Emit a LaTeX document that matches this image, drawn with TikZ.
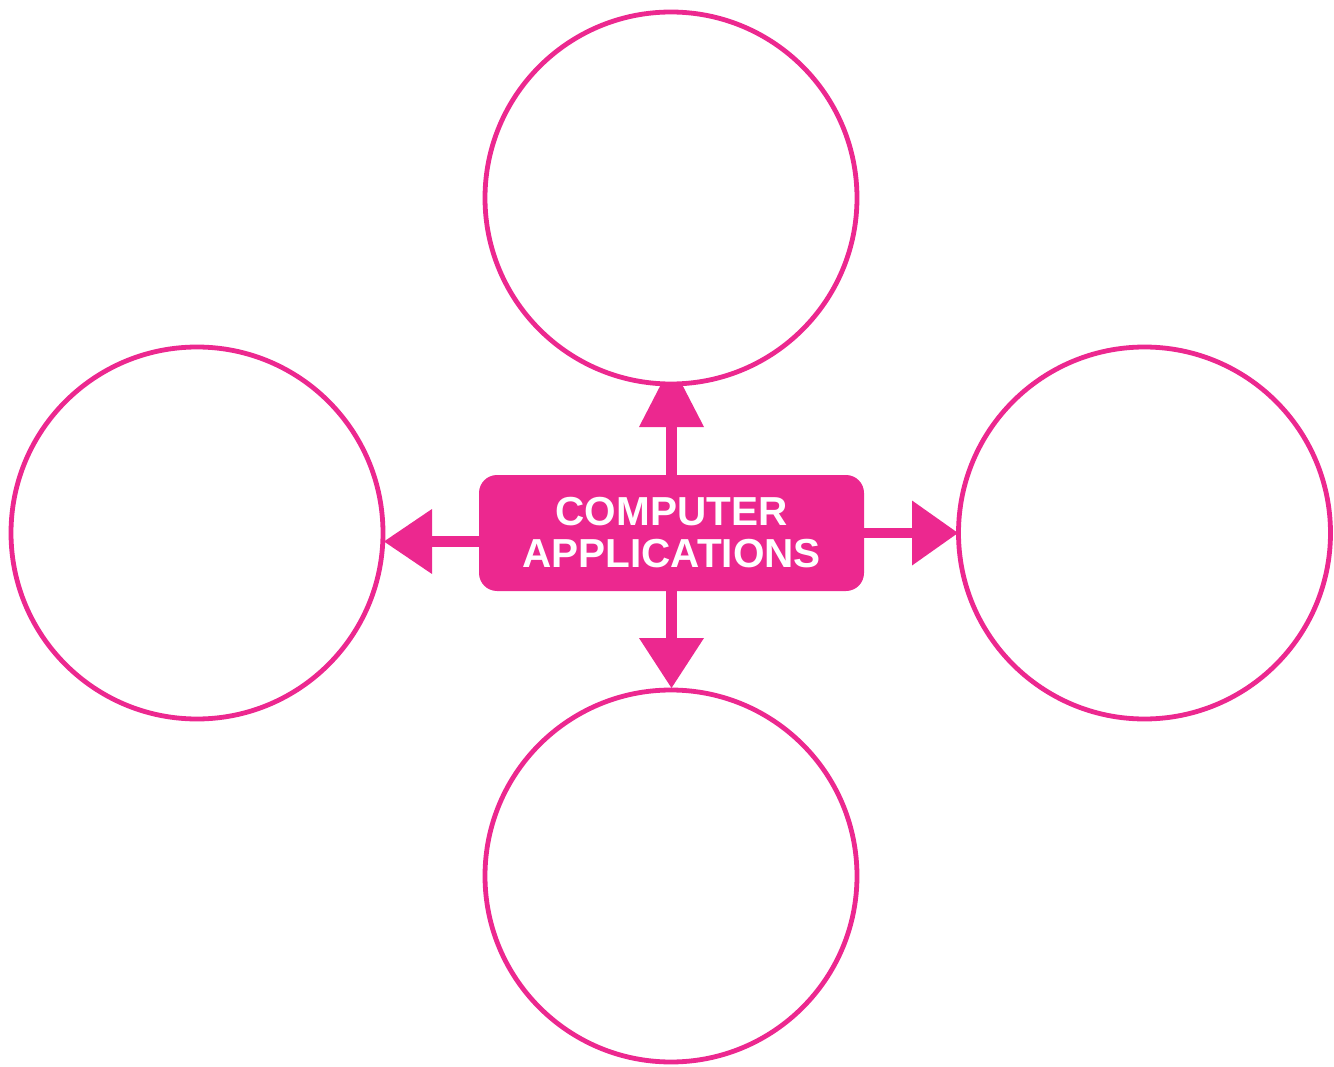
\documentclass[tikz,border=0pt]{standalone}
\usepackage{fontspec}
\setmainfont{Liberation Sans}
\usetikzlibrary{arrows.meta}
\definecolor{pinkc}{HTML}{EC288F}
\begin{document}
\begin{tikzpicture}[x=1pt,y=-1pt,
  bubble/.style={circle,draw=pinkc,line width=4.8pt,fill=white,minimum size=372pt,inner sep=0pt},
  mainbox/.style={rectangle,rounded corners=18pt,fill=pinkc,minimum width=385pt,minimum height=116pt,inner sep=0pt,
    text=white,font=\bfseries\fontsize{40.5}{42}\selectfont,align=center},
  blockarrow/.style={draw=pinkc,line width=10.5pt}]
\useasboundingbox (0,0) rectangle (1334,1067);
\node[mainbox] (box) at (671.5,533) {COMPUTER\\APPLICATIONS};
\coordinate (tc) at (671,198);
\coordinate (lcc) at (197,533);
\coordinate (rcc) at (1144.5,533);
\coordinate (bcc) at (671,876);
% arrows
\draw[blockarrow,-{Triangle[length=63pt,width=65pt,line width=0pt,fill=pinkc]}] (box.north) -- (671.5,364);
\draw[blockarrow,-{Triangle[length=50pt,width=65pt,line width=0pt,fill=pinkc]}] (box.south) -- (671.5,688);
\draw[blockarrow,-{Triangle[length=48pt,width=65pt,line width=0pt,fill=pinkc]}] ([yshift=-8.5pt]box.west) -- (384,541.5);
\draw[blockarrow,-{Triangle[length=46pt,width=65pt,line width=0pt,fill=pinkc]}] (box.east) -- (958,533);
% circles
\node[bubble] (top) at (tc) {};
\node[bubble] (left) at (lcc) {};
\node[bubble] (right) at (rcc) {};
\node[bubble] (bottom) at (bcc) {};
\end{tikzpicture}
\end{document}
